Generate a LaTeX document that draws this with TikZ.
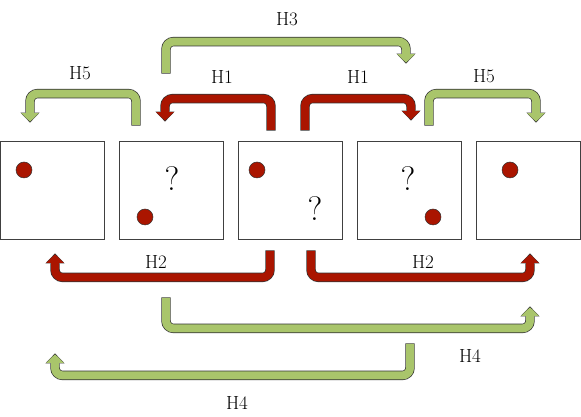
\documentclass[tikz,border=0pt]{standalone}
\usetikzlibrary{arrows.meta}
\definecolor{hred}{HTML}{AA1500}
\definecolor{hgreen}{HTML}{A9C56B}
\begin{document}
\begin{tikzpicture}[x=1pt,y=1pt,
  frame/.style={draw=black!75,line width=0.8pt,minimum width=104pt,minimum height=98pt,inner sep=0pt},
  ball/.style={circle,fill=hred,draw=black!80,line width=0.5pt,minimum size=16pt,inner sep=0pt},
  ask/.style={font=\fontsize{34}{40}\selectfont,inner sep=0pt},
  lbl/.style={font=\fontsize{19}{22}\selectfont,inner sep=0pt},
  fatarrow/.style={draw=#1,line width=8pt,rounded corners=7.5pt,
    shorten <=0.6pt,shorten >=0.9pt,
    -{Triangle[length=8.6pt,width=17.6pt,line width=0pt]},
    preaction={draw=black!80,line width=9.4pt,shorten <=0pt,shorten >=0pt,
      -{Triangle[length=10pt,width=19.2pt,line width=0pt]}}}]
  \useasboundingbox (0,0) rectangle (581,417);
  % the five frames
  \foreach \i in {1,...,5}
    \node[frame] (b\i) at ({52+119*(\i-1)},227) {};
  % balls and question marks
  \node[ball] (d1) at ([shift={(-28,20)}]b1.center) {};
  \node[ball] (d2) at ([shift={(-26,-27)}]b2.center) {};
  \node[ask]  (q2) at ([shift={(1,11)}]b2.center) {?};
  \node[ball] (d3) at ([shift={(-33,20)}]b3.center) {};
  \node[ask]  (q3) at ([shift={(25,-19)}]b3.center) {?};
  \node[ask]  (q4) at ([shift={(-1,11)}]b4.center) {?};
  \node[ball] (d4) at ([shift={(24,-27)}]b4.center) {};
  \node[ball] (d5) at ([shift={(-18,20)}]b5.center) {};
  % upper hops
  \draw[fatarrow=hgreen] ([xshift=-5pt,yshift=67pt]b2.north) -- ++(0,32) -| ([xshift=-3pt,yshift=77pt]b4.north);
  \draw[fatarrow=hgreen] ([xshift=-35pt,yshift=15pt]b2.north) -- ++(0,32) -| ([xshift=-22pt,yshift=18pt]b1.north);
  \draw[fatarrow=hred] ([xshift=-19pt,yshift=10pt]b3.north) -- ++(0,32) -| ([xshift=-6pt,yshift=19pt]b2.north);
  \draw[fatarrow=hred] ([xshift=15pt,yshift=10pt]b3.north) -- ++(0,32) -| ([xshift=2pt,yshift=20pt]b4.north);
  \draw[fatarrow=hgreen] ([xshift=20pt,yshift=15pt]b4.north) -- ++(0,32) -| ([xshift=8pt,yshift=18pt]b5.north);
  \node[lbl] (h3)  at (287,398) {H3};
  \node[lbl] (h5a) at (80,344) {H5};
  \node[lbl] (h1a) at (222,340) {H1};
  \node[lbl] (h1b) at (358,340) {H1};
  \node[lbl] (h5b) at (484,341) {H5};
  % lower hops
  \draw[fatarrow=hred] ([xshift=-20pt,yshift=-11pt]b3.south) -- ++(0,-27) -| ([xshift=3pt,yshift=-14pt]b1.south);
  \draw[fatarrow=hred] ([xshift=21pt,yshift=-11pt]b3.south) -- ++(0,-27) -| ([xshift=2pt,yshift=-14pt]b5.south);
  \draw[fatarrow=hgreen] ([xshift=-5pt,yshift=-58pt]b2.south) -- ++(0,-31) -| ([xshift=2pt,yshift=-67pt]b5.south);
  \draw[fatarrow=hgreen] ([xshift=1pt,yshift=-104pt]b4.south) -- ++(0,-32) -| ([xshift=3pt,yshift=-114pt]b1.south);
  \node[lbl] (h2a) at (156,155) {H2};
  \node[lbl] (h2b) at (423,155) {H2};
  \node[lbl] (h4a) at (470,61) {H4};
  \node[lbl] (h4b) at (237,14) {H4};
\end{tikzpicture}
\end{document}
